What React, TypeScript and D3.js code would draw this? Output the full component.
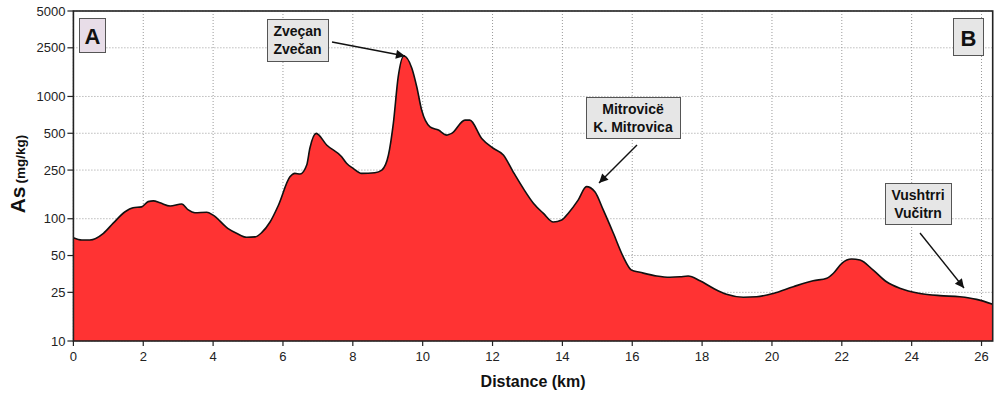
import React from "react";
import * as d3 from "d3";

const distanceKm = [0, 0.24, 0.47, 0.86, 1.14, 1.48, 1.71, 1.95, 2.14, 2.29, 2.48, 2.77, 3.1, 3.29, 3.48, 3.82, 4.0, 4.43, 4.67, 4.96, 5.2, 5.39, 5.63, 5.87, 6.2, 6.34, 6.49, 6.68, 6.77, 6.95, 7.25, 7.68, 7.82, 8.01, 8.25, 8.63, 8.83, 9.02, 9.16, 9.3, 9.46, 9.69, 9.83, 9.97, 10.21, 10.45, 10.69, 10.83, 11.21, 11.35, 11.69, 12.02, 12.31, 12.59, 12.88, 13.17, 13.45, 13.74, 13.98, 14.17, 14.45, 14.69, 14.93, 15.17, 15.46, 15.74, 15.98, 16.22, 16.7, 17.08, 17.37, 17.6, 17.94, 18.32, 18.7, 19.18, 19.56, 20.04, 20.61, 21.18, 21.57, 21.76, 22.0, 22.28, 22.52, 22.9, 23.28, 23.66, 24.24, 24.81, 25.38, 25.86, 26.32];
const arsenic = [70, 67, 67, 76, 92, 114, 123, 125, 138, 140, 135, 127, 132, 118, 112, 113, 107, 83, 76, 70.5, 71, 77, 94, 129, 220, 235, 232, 275, 377, 499, 401, 321, 284, 258, 235, 238, 250, 332, 603, 1450, 2140, 1700, 1200, 775, 565, 531, 483, 499, 641, 641, 454, 377, 332, 242, 177, 134, 111, 94, 97.6, 111, 142, 183, 166, 118, 76, 49, 38, 36.5, 34, 33.2, 33.5, 34, 31.1, 27, 24.1, 22.8, 23, 24.5, 27.8, 31.1, 32.6, 35.8, 43.2, 46.8, 45.9, 38, 30.5, 27, 24.5, 23.5, 23, 21.9, 20];

const yTicks = [10, 25, 50, 100, 250, 500, 1000, 2500, 5000];
const xTicks = [0, 2, 4, 6, 8, 10, 12, 14, 16, 18, 20, 22, 24, 26];
const xMax = 26.32;

type Note = { lines: string[]; box: [number, number, number, number]; from: [number, number]; to: [number, number] };
const notes: Note[] = [
  { lines: ["Zveçan", "Zvečan"], box: [267, 19, 61, 42], from: [332, 42], to: [405, 56] },
  { lines: ["Mitrovicë", "K. Mitrovica"], box: [586, 97, 94, 41], from: [637, 145], to: [599, 183] },
  { lines: ["Vushtrri", "Vučitrn"], box: [885, 183, 66, 41], from: [920, 233], to: [964, 288] },
];

const FONT = "'Liberation Sans', Arial, sans-serif";

export default function App() {
  const L = 73.4, R = 992.7, T = 11, B = 341;
  const x = d3.scaleLinear().domain([0, xMax]).range([L, R]);
  const y = d3.scaleLog().domain([10, 5000]).range([B, T]);
  const data = distanceKm.map((d, i) => [d, arsenic[i]] as [number, number]);
  const area = d3.area<[number, number]>().x(d => x(d[0])).y0(B).y1(d => y(d[1])).curve(d3.curveMonotoneX);
  const line = d3.line<[number, number]>().x(d => x(d[0])).y(d => y(d[1])).curve(d3.curveMonotoneX);

  return (
    <svg width={1000} height={398} style={{ position: "absolute", left: 0, top: 0, background: "#fff" }} fontFamily={FONT}>
      <defs>
        <marker id="ah2" viewBox="0 0 10 10" refX="10" refY="5" markerWidth="12" markerHeight="9" orient="auto" markerUnits="userSpaceOnUse">
          <path d="M0,0 L10,5 L0,10 z" fill="#111" />
        </marker>
      </defs>
      <rect x={0} y={0} width={1000} height={398} fill="#fff" />
      {yTicks.map(t => (
        <line key={"gy" + t} x1={L} x2={R} y1={y(t)} y2={y(t)} stroke="#9a9a9a" strokeWidth={1} strokeDasharray="1,2" />
      ))}
      {xTicks.map(t => (
        <line key={"gx" + t} x1={x(t)} x2={x(t)} y1={T} y2={B} stroke="#9a9a9a" strokeWidth={1} strokeDasharray="1,2" />
      ))}
      <path d={area(data) || ""} fill="#ff3333" />
      <path d={line(data) || ""} fill="none" stroke="#111" strokeWidth={1.6} />
      <rect x={L} y={T} width={R - L} height={B - T} fill="none" stroke="#222" strokeWidth={1.6} />
      {yTicks.map(t => (
        <g key={"ty" + t}>
          <line x1={L - 6} x2={L} y1={y(t)} y2={y(t)} stroke="#222" strokeWidth={1.2} />
          <text x={L - 8} y={y(t)} dy="0.35em" textAnchor="end" fontSize={13} fill="#222">{t}</text>
        </g>
      ))}
      {xTicks.map(t => (
        <g key={"tx" + t}>
          <line x1={x(t)} x2={x(t)} y1={B} y2={B + 5} stroke="#222" strokeWidth={1.2} />
          <text x={x(t)} y={B + 20} textAnchor="middle" fontSize={13} fill="#222">{t}</text>
        </g>
      ))}
      <text x={(L + R) / 2} y={386.5} textAnchor="middle" fontSize={16} fontWeight="bold" fill="#111">Distance (km)</text>
      <text transform="translate(25,174) rotate(-90)" textAnchor="middle" fontWeight="bold" fill="#111">
        <tspan fontSize={21}>As</tspan>
        <tspan fontSize={13.5} dx={3}>(mg/kg)</tspan>
      </text>
      <rect x={79.5} y={18.5} width={26} height={34} fill="#e8dde8" stroke="#555" strokeWidth={1} />
      <text x={92.5} y={44} textAnchor="middle" fontSize={22} fontWeight="bold" fill="#111">A</text>
      <rect x={953.5} y={18.5} width={30} height={37} fill="#e6e6e6" stroke="#555" strokeWidth={1} />
      <text x={968.5} y={46} textAnchor="middle" fontSize={22} fontWeight="bold" fill="#111">B</text>
      {notes.map((n, i) => {
        const [bx, by, bw, bh] = n.box;
        return (
          <g key={"n" + i}>
            <rect x={bx + 0.5} y={by + 0.5} width={bw} height={bh} fill="#e6e6e6" stroke="#555" strokeWidth={1} />
            {n.lines.map((s, j) => (
              <text key={j} x={bx + bw / 2} y={by + 17 + j * 18} textAnchor="middle" fontSize={14} fontWeight="bold" fill="#111">{s}</text>
            ))}
            <line x1={n.from[0]} y1={n.from[1]} x2={n.to[0]} y2={n.to[1]} stroke="#111" strokeWidth={1.4} markerEnd="url(#ah2)" />
          </g>
        );
      })}
    </svg>
  );
}
